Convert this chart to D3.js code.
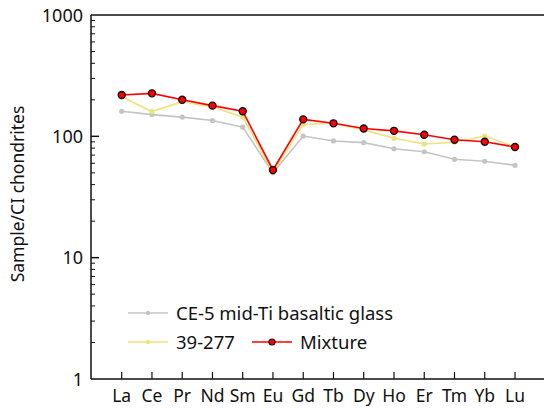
<!DOCTYPE html>
<html>
<head>
<meta charset="utf-8">
<script src="https://cdn.jsdelivr.net/npm/d3@7"></script>
<style>
  html, body { margin: 0; padding: 0; background: #fff; }
  svg { display: block; }
  text { font-family: "Noto Sans", "Open Sans", sans-serif; fill: #111; }
</style>
</head>
<body>
<svg id="chart" width="544" height="410"></svg>
<script>
// REE patterns normalised to CI chondrites
const elements = ["La", "Ce", "Pr", "Nd", "Sm", "Eu", "Gd", "Tb", "Dy", "Ho", "Er", "Tm", "Yb", "Lu"];
const glassValues = [161, 151, 144, 135, 119, 50, 100.6, 91.6, 88.7, 79, 74.6, 64.7, 62.3, 57.7];
const sample39277 = [212, 160, 193, 175, 144, 51, 125, 129, 113, 96.4, 86.5, 89.3, 100.6, 82];
const mixture = [219, 226, 200, 179, 161, 52.8, 138, 128, 116, 111, 103, 93.8, 90.3, 81.7];
const yTickValues = [1, 10, 100, 1000];
const seriesNames = ["CE-5 mid-Ti basaltic glass", "39-277", "Mixture"];

const svg = d3.select("#chart");
const plotLeft = 91, plotTop = 15, plotBottom = 379, plotRight = 560;

const x = d3.scalePoint().domain(elements).range([121.7, 515]);
const y = d3.scaleLog().domain([1, 1000]).range([plotBottom, plotTop]);

// frame: left, top and bottom lines
svg.append("line").attr("x1", plotLeft).attr("x2", plotRight).attr("y1", plotTop).attr("y2", plotTop)
  .attr("stroke", "#111").attr("stroke-width", 1.5);
svg.append("line").attr("x1", plotLeft).attr("x2", plotRight).attr("y1", plotBottom).attr("y2", plotBottom)
  .attr("stroke", "#111").attr("stroke-width", 1.5);
svg.append("line").attr("x1", plotLeft).attr("x2", plotLeft).attr("y1", plotTop).attr("y2", plotBottom)
  .attr("stroke", "#111").attr("stroke-width", 1.5);

// y ticks: inward, minor ones shorter
const minor = [];
for (let d = 1; d < 1000; d *= 10) for (let k = 2; k <= 9; k++) minor.push(d * k);
svg.append("g").selectAll("line").data(minor).join("line")
  .attr("x1", plotLeft).attr("x2", plotLeft + 4)
  .attr("y1", d => y(d)).attr("y2", d => y(d))
  .attr("stroke", "#111").attr("stroke-width", 1);
svg.append("g").selectAll("line").data(yTickValues.slice(1, 3)).join("line")
  .attr("x1", plotLeft).attr("x2", plotLeft + 8)
  .attr("y1", d => y(d)).attr("y2", d => y(d))
  .attr("stroke", "#111").attr("stroke-width", 1.5);
svg.append("g").selectAll("text").data(yTickValues).join("text")
  .attr("x", plotLeft - 8).attr("y", d => y(d) + 6.5)
  .attr("text-anchor", "end").attr("font-size", 18)
  .text(d => d3.format("d")(d));

// x ticks: inward from the bottom line
svg.append("g").selectAll("line").data(elements).join("line")
  .attr("x1", d => x(d)).attr("x2", d => x(d))
  .attr("y1", plotBottom).attr("y2", plotBottom - 7)
  .attr("stroke", "#111").attr("stroke-width", 1.2);
svg.append("g").selectAll("text").data(elements).join("text")
  .attr("x", d => x(d)).attr("y", 402)
  .attr("text-anchor", "middle").attr("font-size", 17.5)
  .text(d => d);

// y axis title
svg.append("text")
  .attr("transform", "translate(24,194) rotate(-90)")
  .attr("text-anchor", "middle").attr("font-size", 17.5)
  .text("Sample/CI chondrites");

const line = d3.line().x((d, i) => x(elements[i])).y(d => y(d));

function drawSeries(values, color, r, stroke) {
  const g = svg.append("g");
  g.append("path").datum(values).attr("d", line)
    .attr("fill", "none").attr("stroke", color).attr("stroke-width", 1.6);
  g.selectAll("circle").data(values).join("circle")
    .attr("cx", (d, i) => x(elements[i])).attr("cy", d => y(d)).attr("r", r)
    .attr("fill", color)
    .attr("stroke", stroke || "none").attr("stroke-width", stroke ? 1.4 : 0);
}

const colors = ["#c4c4c4", "#ece37c", "#ff0000"];
drawSeries(glassValues, colors[0], 2.6);
drawSeries(sample39277, colors[1], 2.6);
drawSeries(mixture, colors[2], 3.5, "#111");

// legend
const legend = svg.append("g");
const items = [
  { name: seriesNames[0], color: colors[0], x: 128, y: 313, r: 2.2 },
  { name: seriesNames[1], color: colors[1], x: 128, y: 342, r: 2.2 },
  { name: seriesNames[2], color: colors[2], x: 252, y: 342, r: 3, stroke: "#111" }
];
items.forEach(it => {
  legend.append("line").attr("x1", it.x).attr("x2", it.x + 40)
    .attr("y1", it.y).attr("y2", it.y)
    .attr("stroke", it.color).attr("stroke-width", 1.6);
  legend.append("circle").attr("cx", it.x + 20).attr("cy", it.y).attr("r", it.r)
    .attr("fill", it.color)
    .attr("stroke", it.stroke || "none").attr("stroke-width", it.stroke ? 1.2 : 0);
  legend.append("text").attr("x", it.x + 48).attr("y", it.y + 6.5)
    .attr("font-size", 18.5).text(it.name);
});
</script>
</body>
</html>
